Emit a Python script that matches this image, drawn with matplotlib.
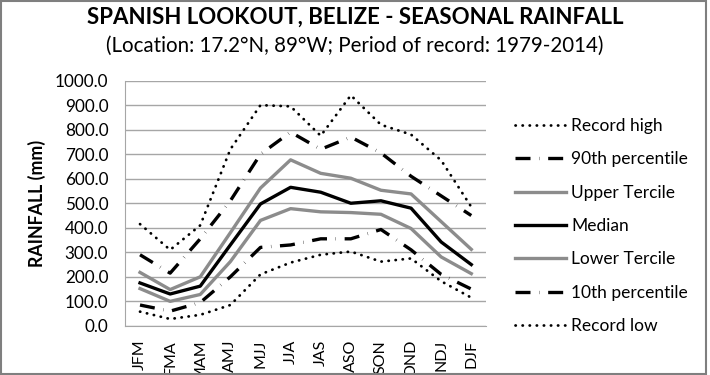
import numpy as np
import matplotlib.pyplot as plt
from matplotlib.patches import Rectangle

plt.rcParams['font.family'] = ['Lato', 'DejaVu Sans']

seasons = ["JFM", "FMA", "MAM", "AMJ", "MJJ", "JJA", "JAS", "ASO", "SON", "OND", "NDJ", "DJF"]

record_high = [415, 310, 410, 720, 900, 895, 775, 940, 820, 780, 675, 485]
pct90 = [290, 215, 355, 510, 700, 790, 720, 770, 705, 610, 530, 450]
upper_tercile = [218, 148, 200, 380, 562, 677, 622, 602, 553, 538, 425, 312]
median = [175, 130, 162, 330, 497, 565, 545, 500, 510, 480, 342, 250]
lower_tercile = [152, 100, 128, 262, 430, 478, 465, 462, 455, 397, 281, 213]
pct10 = [85, 60, 95, 200, 320, 330, 355, 355, 393, 310, 210, 150]
record_low = [58, 28, 45, 85, 210, 258, 290, 303, 262, 275, 182, 115]

yticks = np.arange(0, 1001, 100)

fig = plt.figure(figsize=(7.1, 3.75), dpi=100)
ax = fig.add_axes([0.176, 0.131, 0.509, 0.654])

x = np.arange(len(seasons))

dot = (0, (0.1, 2.45))
dashdot = (0, (4.5, 2.6, 0.1, 2.6))

ax.plot(x, record_high, color='black', lw=2.0, linestyle=dot, dash_capstyle='round', label='Record high')
ax.plot(x, pct90, color='black', lw=2.4, linestyle=dashdot, dash_capstyle='butt', label='90th percentile')
ax.plot(x, upper_tercile, color='#8c8c8c', lw=2.4, label='Upper Tercile')
ax.plot(x, median, color='black', lw=2.4, label='Median')
ax.plot(x, lower_tercile, color='#8c8c8c', lw=2.4, label='Lower Tercile')
ax.plot(x, pct10, color='black', lw=2.4, linestyle=dashdot, dash_capstyle='butt', label='10th percentile')
ax.plot(x, record_low, color='black', lw=2.0, linestyle=dot, dash_capstyle='round', label='Record low')

ax.set_xlim(-0.5, len(seasons) - 0.5)
ax.set_ylim(0, 1000)
ax.set_yticks(yticks)
ax.set_yticklabels(["%.1f" % v for v in yticks], fontsize=12.3)
ax.set_xticks(x)
ax.set_xticklabels(seasons, rotation=90, fontsize=11.5)
ax.tick_params(length=0)
ax.tick_params(axis='y', pad=12)
ax.tick_params(axis='x', pad=10)
ax.grid(axis='y', color='#a6a6a6', lw=1)
ax.set_axisbelow(True)
for s in ['top', 'right']:
    ax.spines[s].set_visible(False)
for s in ['left', 'bottom']:
    ax.spines[s].set_color('#a6a6a6')

ax.set_ylabel("RAINFALL (mm)", fontsize=12.8, fontweight='bold', labelpad=6)

fig.text(0.5, 0.953, "SPANISH LOOKOUT, BELIZE - SEASONAL RAINFALL", ha='center', va='center',
         fontsize=16, fontweight='bold')
fig.text(0.5, 0.878, "(Location: 17.2°N, 89°W; Period of record: 1979-2014)", ha='center', va='center',
         fontsize=14.8)

leg = fig.legend(loc='center left', bbox_to_anchor=(0.726, 0.397), frameon=False, fontsize=12.5,
                 handlelength=2.9, handletextpad=0.3, labelspacing=1.0, borderpad=0, borderaxespad=0)

fig.patches.append(Rectangle((0.002, 0.003), 0.993, 0.994, transform=fig.transFigure,
                             fill=False, edgecolor='#7f7f7f', lw=1.5))

fig.savefig("out.png", dpi=100)
